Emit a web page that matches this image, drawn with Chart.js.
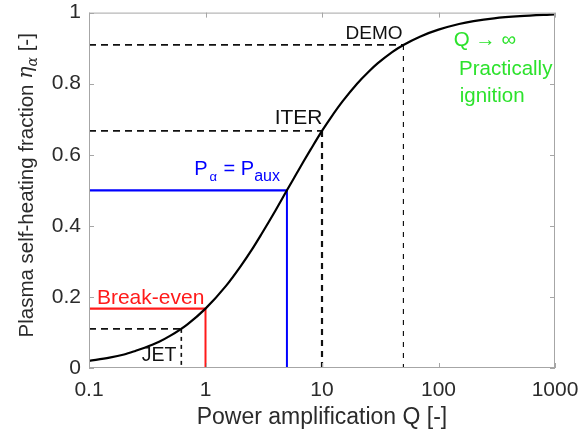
<!DOCTYPE html>
<html>
<head>
<meta charset="utf-8">
<script src="https://cdn.jsdelivr.net/npm/chart.js@4/dist/chart.umd.min.js"></script>
<style>
  html, body { margin: 0; padding: 0; background: #ffffff; }
  #wrap { width: 586px; height: 431px; }
</style>
</head>
<body>
<div id="wrap"><canvas id="chart" width="586" height="431"></canvas></div>
<script>
// Self-heating fraction versus power amplification Q
const qValues   = [0.1, 0.15, 0.2, 0.25, 0.3, 0.4, 0.5, 0.7, 1, 1.5, 2, 2.5, 3, 4, 5, 6, 7, 8, 10, 12, 15, 20, 25, 30, 40, 50, 70, 100, 150, 200, 300, 500, 1000];
const etaValues = [0.020, 0.029, 0.038, 0.048, 0.057, 0.074, 0.091, 0.123, 0.167, 0.231, 0.286, 0.333, 0.375, 0.444, 0.500, 0.545, 0.583, 0.615, 0.667, 0.706, 0.750, 0.800, 0.833, 0.857, 0.889, 0.909, 0.933, 0.952, 0.968, 0.976, 0.984, 0.990, 0.995];

// Operating points marked on the curve
const pointNames = ['JET', 'Break-even', 'Palpha=Paux', 'ITER', 'DEMO'];
const pointQ     = [0.62, 1, 5, 10, 50];
const pointEta   = [0.11, 0.167, 0.5, 0.667, 0.909];
const pointColor = ['#111111', '#ff1a1a', '#0000ff', '#111111', '#111111'];
const pointDash  = [[7, 5], [], [], [7, 5], [7, 5]];
const vertDash   = [[4, 4], [], [], [6, 5], [5, 6]];
const vertWidth  = [1.6, 2, 2, 2.2, 1.2];

// Axis ticks
const xTickValues = [0.1, 1, 10, 100, 1000];
const xTickLabels = ['0.1', '1', '10', '100', '1000'];
const yTickValues = [0, 0.2, 0.4, 0.6, 0.8, 1];
const yTickLabels = ['0', '0.2', '0.4', '0.6', '0.8', '1'];

const FONT = '"Liberation Sans", Arial, sans-serif';
const TEXT = '#2b2b2b';

const curve = qValues.map((q, i) => ({ x: q, y: etaValues[i] }));

const datasets = [{
  label: 'eta',
  data: curve,
  borderColor: '#000000',
  borderWidth: 2.2,
  pointRadius: 0,
  cubicInterpolationMode: 'monotone',
  order: 0
}];

pointNames.forEach((name, i) => {
  // horizontal guide from the axis to the curve
  datasets.push({
    label: name + ' h',
    data: [{ x: xTickValues[0], y: pointEta[i] }, { x: pointQ[i], y: pointEta[i] }],
    borderColor: pointColor[i],
    borderWidth: pointDash[i].length ? 1.8 : 2.2,
    borderDash: pointDash[i],
    pointRadius: 0,
    tension: 0,
    order: 1
  });
  // vertical guide from the curve down to zero
  datasets.push({
    label: name + ' v',
    data: [{ x: pointQ[i], y: pointEta[i] }, { x: pointQ[i], y: 0 }],
    borderColor: pointColor[i],
    borderWidth: vertWidth[i],
    borderDash: vertDash[i],
    pointRadius: 0,
    tension: 0,
    order: 1
  });
});

// Draw a run of text pieces (normal / italic / subscript) starting at x, baseline y
function drawRich(ctx, parts, x, y, align) {
  let total = 0;
  parts.forEach(p => { ctx.font = p.font; total += ctx.measureText(p.text).width + (p.gap || 0); });
  let cx = align === 'center' ? x - total / 2 : x;
  parts.forEach(p => {
    ctx.font = p.font;
    ctx.fillStyle = p.color;
    ctx.fillText(p.text, cx + (p.gap || 0), y + (p.dy || 0));
    cx += ctx.measureText(p.text).width + (p.gap || 0);
  });
}

// Labels anchored in data coordinates
const labels = [
  { text: 'DEMO',        q: 28,    eta: 0.941, size: 19,   color: '#111111', align: 'center' },
  { text: 'ITER',        q: 6.3,   eta: 0.703, size: 21,   color: '#111111', align: 'center' },
  { text: 'Break-even',  q: 0.117, eta: 0.181, size: 21,   color: '#ff1a1a', align: 'left', base: true },
  { text: 'JET',         q: 0.40,  eta: 0.034, size: 19.5, color: '#111111', align: 'center' },
  { text: 'Q \u2192 \u221e', q: 135, eta: 0.921, size: 20.5, color: '#2ce22c', align: 'left' },
  { text: 'Practically', q: 150,   eta: 0.825, size: 20.5, color: '#2ce22c', align: 'left', base: true },
  { text: 'ignition',    q: 152,   eta: 0.749, size: 20.5, color: '#2ce22c', align: 'left', base: true }
];

const decorations = {
  id: 'decorations',
  afterDraw(chart) {
    const { ctx, chartArea: a, scales: { x, y } } = chart;
    ctx.save();

    // axes box
    ctx.strokeStyle = '#a6a6a6';
    ctx.lineWidth = 1;
    ctx.strokeRect(a.left + 0.5, a.top + 0.5, a.right - a.left - 1, a.bottom - a.top - 1);

    // inward tick marks
    ctx.beginPath();
    xTickValues.forEach(v => {
      const px = Math.round(x.getPixelForValue(v)) + 0.5;
      ctx.moveTo(px, a.bottom); ctx.lineTo(px, a.bottom - 5);
      ctx.moveTo(px, a.top); ctx.lineTo(px, a.top + 5);
    });
    yTickValues.forEach(v => {
      const py = Math.round(y.getPixelForValue(v)) + 0.5;
      ctx.moveTo(a.left, py); ctx.lineTo(a.left + 5, py);
      ctx.moveTo(a.right, py); ctx.lineTo(a.right - 5, py);
    });
    ctx.stroke();

    // annotations
    labels.forEach(l => {
      const px = x.getPixelForValue(l.q);
      const py = y.getPixelForValue(l.eta);
      ctx.font = l.size + 'px ' + FONT;
      ctx.fillStyle = l.color;
      ctx.textAlign = l.align;
      ctx.textBaseline = l.base ? 'alphabetic' : 'middle';
      ctx.fillText(l.text, px, py);
    });

    // P_alpha = P_aux
    ctx.textAlign = 'left';
    ctx.textBaseline = 'alphabetic';
    drawRich(ctx, [
      { text: 'P', font: '20px ' + FONT, color: '#0000ff' },
      { text: '\u03b1', font: '13px ' + FONT, color: '#0000ff', dy: 6, gap: 2 },
      { text: ' = P', font: '20px ' + FONT, color: '#0000ff', gap: 1 },
      { text: 'aux', font: '16px ' + FONT, color: '#0000ff', dy: 6 }
    ], x.getPixelForValue(0.80), y.getPixelForValue(0.544), 'left');

    // y-axis title with italic eta and subscript alpha
    ctx.translate(27, (a.top + a.bottom) / 2 - 5);
    ctx.rotate(-Math.PI / 2);
    ctx.textBaseline = 'middle';
    drawRich(ctx, [
      { text: 'Plasma self-heating fraction ', font: '20.5px ' + FONT, color: TEXT },
      { text: '\u03b7', font: 'italic 20.5px "DejaVu Serif", serif', color: TEXT },
      { text: '\u03b1', font: 'italic 14px "DejaVu Serif", serif', color: TEXT, dy: 6 },
      { text: ' [-]', font: '20.5px ' + FONT, color: TEXT }
    ], 0, 0, 'center');

    ctx.restore();
  }
};

new Chart(document.getElementById('chart'), {
  type: 'line',
  data: { datasets },
  options: {
    responsive: false,
    devicePixelRatio: 1,
    animation: false,
    layout: { padding: { top: 10, right: 31, left: 0, bottom: 0 } },
    plugins: { legend: { display: false }, tooltip: { enabled: false } },
    scales: {
      x: {
        type: 'logarithmic',
        min: 0.1,
        max: 1000,
        grid: { display: false },
        border: { display: false },
        afterBuildTicks: s => { s.ticks = xTickValues.map(v => ({ value: v })); },
        afterFit: s => { s.height = 63; },
        ticks: {
          autoSkip: false,
          maxRotation: 0,
          padding: 2,
          color: TEXT,
          font: { family: FONT, size: 21 },
          callback: (v) => xTickLabels[xTickValues.indexOf(v)] ?? ''
        },
        title: {
          display: true,
          text: 'Power amplification Q [-]',
          color: TEXT,
          font: { family: FONT, size: 23 },
          padding: { top: 0, bottom: 0 }
        }
      },
      y: {
        type: 'linear',
        min: 0,
        max: 1,
        grid: { display: false },
        border: { display: false },
        afterBuildTicks: s => { s.ticks = yTickValues.map(v => ({ value: v })); },
        afterFit: s => { s.width = 89; },
        ticks: {
          padding: 0,
          color: TEXT,
          font: { family: FONT, size: 21 },
          callback: (v) => yTickLabels[yTickValues.indexOf(v)] ?? ''
        }
      }
    }
  },
  plugins: [decorations]
});
</script>
</body>
</html>
